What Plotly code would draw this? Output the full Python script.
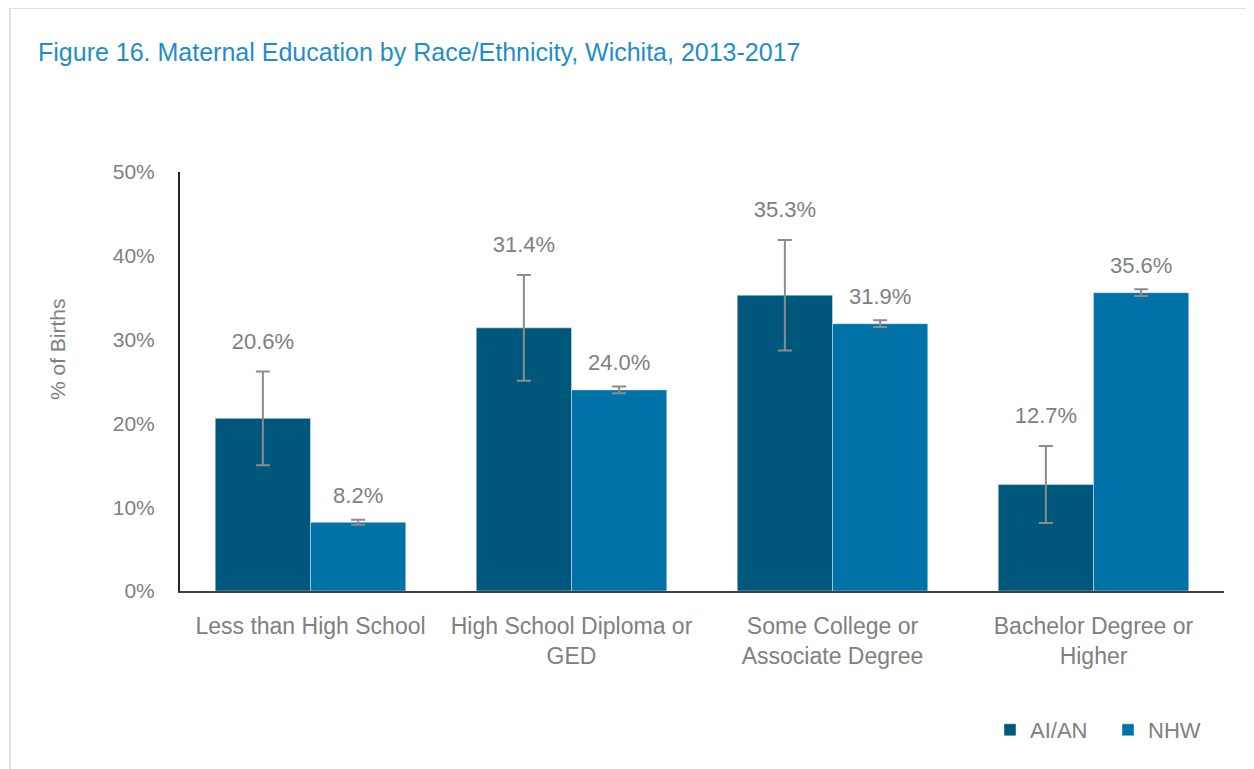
import plotly.graph_objects as go

categories = ["Less than High School", "High School Diploma or<br>GED",
              "Some College or<br>Associate Degree", "Bachelor Degree or<br>Higher"]
aian_values = [20.6, 31.4, 35.3, 12.7]
aian_err = [5.6, 6.3, 6.6, 4.6]
nhw_values = [8.2, 24.0, 31.9, 35.6]
nhw_err = [0.3, 0.4, 0.4, 0.4]
tick_vals = [0, 10, 20, 30, 40, 50]
tick_text = ["0%", "10%", "20%", "30%", "40%", "50%"]

OFF = 8  # page body margin
W, H = 1254 - OFF, 769 - OFF
L, T = 180 - OFF, 172 - OFF
R = W - (1224 - OFF)
B = H - (591 - OFF)
pw, ph = W - L - R, H - T - B

def px_x(p):
    return (p - OFF - L) / pw

def px_y(p):
    return (H - B - (p - OFF)) / ph

gray = "#808080"
font_main = "Liberation Sans, Arial, sans-serif"
err_style = dict(type="data", visible=True, color="#8c8c8c", thickness=2, width=7)

fig = go.Figure()
fig.add_trace(go.Bar(
    x=categories, y=aian_values, name="AI/AN", marker_color="#00577C",
    offsetgroup="a", error_y=dict(array=aian_err, **err_style), hoverinfo="skip"))
fig.add_trace(go.Bar(
    x=categories, y=nhw_values, name="NHW", marker_color="#0072A8",
    offsetgroup="b", error_y=dict(array=nhw_err, **err_style), hoverinfo="skip"))

fig.add_trace(go.Scatter(
    x=categories, y=[v + e for v, e in zip(aian_values, aian_err)],
    mode="markers+text", marker=dict(size=26, color="rgba(0,0,0,0)"),
    text=[f"{v:.1f}%" for v in aian_values],
    textposition="top center", textfont=dict(size=22, color=gray, family=font_main),
    offsetgroup="a", showlegend=False, hoverinfo="skip", cliponaxis=False))
fig.add_trace(go.Scatter(
    x=categories, y=[v + e for v, e in zip(nhw_values, nhw_err)],
    mode="markers+text", marker=dict(size=16, color="rgba(0,0,0,0)"),
    text=[f"{v:.1f}%" for v in nhw_values],
    textposition="top center", textfont=dict(size=22, color=gray, family=font_main),
    offsetgroup="b", showlegend=False, hoverinfo="skip", cliponaxis=False))

fig.update_layout(
    width=W, height=H,
    margin=dict(l=L, r=R, t=T, b=B),
    paper_bgcolor="white", plot_bgcolor="white",
    barmode="group", bargap=0.27, bargroupgap=0,
    scattermode="group", scattergap=0.27,
    font=dict(family=font_main, color=gray, size=22),
    title=dict(text="Figure 16. Maternal Education by Race/Ethnicity, Wichita, 2013-2017",
               x=(38 - OFF) / W, xanchor="left", y=1 - (52 - OFF) / H, yanchor="middle",
               font=dict(family=font_main, size=25, color="#1F8DCB")),
    xaxis=dict(showline=True, linecolor="#404040", linewidth=2, ticks="",
               showgrid=False, tickfont=dict(size=23, color=gray), ticklabelstandoff=13),
    yaxis=dict(range=[0, 50], tickvals=tick_vals, ticktext=tick_text,
               showline=True, linecolor="#262626", linewidth=2, ticks="",
               showgrid=False, zeroline=False, ticklabelstandoff=19,
               tickfont=dict(size=21, color=gray)),
    legend=dict(orientation="h", x=px_x(1226), xanchor="right", y=px_y(730), yanchor="middle",
                font=dict(size=22, color=gray), itemwidth=30,
                entrywidth=73, entrywidthmode="pixels", traceorder="normal"),
    annotations=[dict(text="% of Births", textangle=-90, xref="paper", yref="paper",
                      x=px_x(57), y=px_y(349), xanchor="center", yanchor="middle",
                      showarrow=False, font=dict(size=21, color=gray))],
    shapes=[dict(type="rect", xref="paper", yref="paper",
                 x0=px_x(10), x1=px_x(1280), y0=px_y(800), y1=px_y(8),
                 line=dict(color="#e0e0e0", width=2), layer="below")],
)

fig.write_html("out.html")
